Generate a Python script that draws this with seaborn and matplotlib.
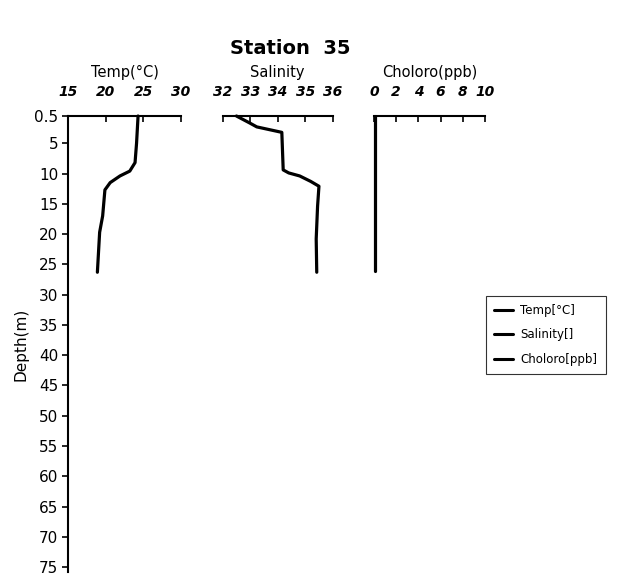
import matplotlib
matplotlib.use("Agg")
import matplotlib.pyplot as plt
import seaborn as sns
import pandas as pd
from matplotlib.lines import Line2D

# ---- data ----
temp_depth = [0.5, 5, 8.2, 9.6, 10.4, 11.5, 12.7, 17, 19.7, 26.3]
temp = [24.3, 24.1, 23.9, 23.2, 21.9, 20.6, 19.9, 19.6, 19.2, 18.9]

sal_depth = [0.5, 1.7, 2.3, 3.2, 9.4, 9.9, 10.4, 11.3, 12.1, 15.4, 20.8, 26.3]
salinity = [32.5, 33.0, 33.24, 34.15, 34.2, 34.4, 34.8, 35.2, 35.5, 35.45, 35.4, 35.42]

chl_depth = [0.5, 5, 10, 15, 20, 26.1]
chloro = [0.1, 0.1, 0.1, 0.1, 0.1, 0.1]

depth_ticks = [0.5, 5, 10, 15, 20, 25, 30, 35, 40, 45, 50, 55, 60, 65, 70, 75]
temp_ticks = [15, 20, 25, 30]
sal_ticks = [32, 33, 34, 35, 36]
chl_ticks = [0, 2, 4, 6, 8, 10]

panel_titles = ["Temp(°C)", "Salinity", "Choloro(ppb)"]
legend_labels = ["Temp[°C]", "Salinity[]", "Choloro[ppb]"]

sns.set_theme(style="white")
plt.rcParams['font.family'] = ['DejaVu Sans']
plt.rcParams['text.color'] = 'black'
plt.rcParams['axes.labelcolor'] = 'black'
plt.rcParams['xtick.color'] = 'black'
plt.rcParams['ytick.color'] = 'black'

W, H = 617, 577
fig = plt.figure(figsize=(W / 100, H / 100), dpi=100)

top_px, bot_px = 116, 572
YMAX = 75.8
def ax_rect(left_px, width_px):
    return [left_px / W, 1 - bot_px / H, width_px / W, (bot_px - top_px) / H]

ax_t = fig.add_axes(ax_rect(68, 113))
ax_s = fig.add_axes(ax_rect(222.7, 110))
ax_c = fig.add_axes(ax_rect(374, 111))

df_t = pd.DataFrame({"x": temp, "d": temp_depth})
df_s = pd.DataFrame({"x": salinity, "d": sal_depth})
df_c = pd.DataFrame({"x": chloro, "d": chl_depth})

lw = 2.3
for ax, df in ((ax_t, df_t), (ax_s, df_s), (ax_c, df_c)):
    sns.lineplot(data=df, x="x", y="d", sort=False, estimator=None,
                 ax=ax, color="black", lw=lw, clip_on=False)

specs = [
    (ax_t, (15, 30), temp_ticks, panel_titles[0]),
    (ax_s, (32, 36), sal_ticks, panel_titles[1]),
    (ax_c, (0, 10), chl_ticks, panel_titles[2]),
]
for ax, xl, xt, title in specs:
    ax.set_xlim(*xl)
    ax.set_ylim(YMAX, 0.5)
    ax.set_facecolor("none")
    ax.xaxis.tick_top()
    ax.xaxis.set_label_position("top")
    ax.set_xticks(xt)
    ax.set_xticklabels([str(v) for v in xt], fontsize=10, fontweight="bold", fontstyle="italic")
    ax.tick_params(axis="x", direction="in", length=4, width=1.2, pad=12, colors="black")
    ax.set_xlabel(title, fontsize=10.5, labelpad=6, color="black")
    for s in ["right", "bottom"]:
        ax.spines[s].set_visible(False)
    ax.spines["top"].set_color("black")
    ax.spines["top"].set_linewidth(1.5)
    ax.set_ylabel("")

for ax in (ax_s, ax_c):
    ax.spines["left"].set_visible(False)
    ax.set_yticks([])

ax_t.spines["left"].set_color("black")
ax_t.spines["left"].set_linewidth(1.5)
ax_t.set_yticks(depth_ticks)
ax_t.set_yticklabels([("%g" % v) for v in depth_ticks], fontsize=11)
ax_t.tick_params(axis="y", direction="out", length=4, width=1.2, pad=3, colors="black", left=True)
ax_t.set_ylabel("Depth(m)", fontsize=11, labelpad=4, color="black")

fig.text(290 / W, 1 - 48 / H, "Station  35", ha="center", va="center",
         fontsize=14, fontweight="bold", color="black")

handles = [Line2D([], [], color="black", lw=2.2) for _ in legend_labels]
leg = fig.legend(handles, legend_labels, loc="upper left",
                 bbox_to_anchor=(486 / W, 1 - 296 / H), fontsize=8.5,
                 frameon=True, fancybox=False, edgecolor="black",
                 handlelength=1.6, handletextpad=0.6, labelspacing=0.95,
                 borderpad=0.7, borderaxespad=0)
leg.get_frame().set_linewidth(0.8)
for t in leg.get_texts():
    t.set_color("black")

fig.savefig("out.png", dpi=100)
